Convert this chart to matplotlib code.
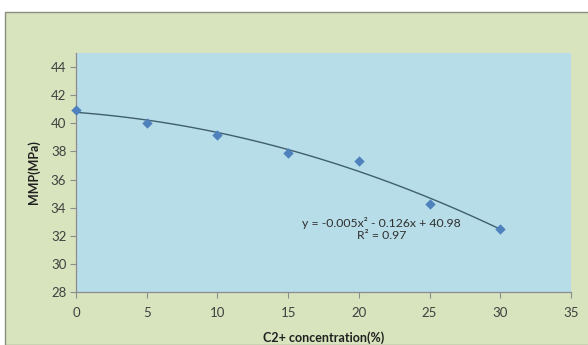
import matplotlib.pyplot as plt
from matplotlib.patches import Rectangle
import numpy as np

c2_conc = [0, 5, 10, 15, 20, 25, 30]
mmp = [40.95, 40.05, 39.2, 37.92, 37.35, 34.25, 32.5]
x_ticks = [0, 5, 10, 15, 20, 25, 30, 35]
y_ticks = [28, 30, 32, 34, 36, 38, 40, 42, 44]

plt.rcParams['font.family'] = ['Lato', 'DejaVu Sans']

fig = plt.figure(figsize=(5.88, 3.45), dpi=100)
fig.patch.set_facecolor('white')

# chart area background with thin grey frame
fig.patches.append(Rectangle((5 / 588, 0), 1, 1 - 11.5 / 345, transform=fig.transFigure,
                             facecolor='#d7e4bd', edgecolor='#8a8f80', linewidth=1.0, zorder=-10))

ax = fig.add_axes([76 / 588, 1 - 292 / 345, 495 / 588, 239 / 345])
ax.set_zorder(5)
ax.set_facecolor('#b7dde8')

# quadratic trend line
coef = np.polyfit(c2_conc, mmp, 2)
xs = np.linspace(0, 30, 100)
ax.plot(xs, np.polyval(coef, xs), color='#3f5f6f', linewidth=1.0, zorder=2)
ax.scatter(c2_conc, mmp, marker='D', s=28, color='#4f81bd', zorder=3, linewidths=0, clip_on=False)

ax.set_xlim(0, 35)
ax.set_ylim(28, 45)
ax.set_xticks(x_ticks)
ax.set_yticks(y_ticks)

for side in ['top', 'right']:
    ax.spines[side].set_visible(False)
for side in ['left', 'bottom']:
    ax.spines[side].set_color('#8c8c8c')
    ax.spines[side].set_linewidth(0.9)
ax.tick_params(axis='both', colors='#8c8c8c', length=4, width=0.8,
               labelsize=9.5, labelcolor='#404040')
ax.tick_params(axis='x', pad=7)
ax.tick_params(axis='y', pad=3)

ax.text(21.6, 33.3, 'y = -0.005x² - 0.126x + 40.98\nR² = 0.97',
        ha='center', va='top', fontsize=8.8, color='#303030', linespacing=1.1)

ax.set_xlabel('C2+ concentration(%)', fontsize=9, fontweight='bold', color='#202020', labelpad=9)
ax.set_ylabel('MMP(MPa)', fontsize=9, fontweight='bold', color='#202020', labelpad=8)

fig.savefig('out.png', dpi=100, facecolor=fig.get_facecolor())
